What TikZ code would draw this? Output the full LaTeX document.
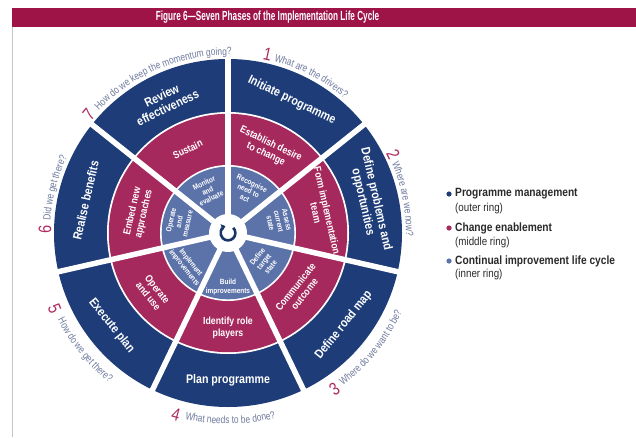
\documentclass[tikz,border=0pt]{standalone}
\usepackage{fontspec}
\setmainfont{Liberation Sans}
\newfontfamily\condf[FakeStretch=0.85,Ligatures=TeX]{Liberation Sans}
\newfontfamily\titlef[FakeStretch=0.62,Ligatures=TeX]{Liberation Sans}
\newfontfamily\qfam[FakeStretch=0.8,Ligatures=TeX]{Liberation Sans}
\usetikzlibrary{decorations.text, arrows.meta}
\definecolor{pmblue}{HTML}{1D3C78}
\definecolor{cecrim}{HTML}{A6295D}
\definecolor{cilblue}{HTML}{5C73AA}
\definecolor{titlecrim}{HTML}{9E1447}
\definecolor{qcol}{HTML}{6E7A9E}
\definecolor{numcol}{HTML}{B0295F}
\definecolor{iconblue}{HTML}{1A3568}
\definecolor{legtxt}{HTML}{2A2A2A}
\newcommand\qfont{\qfam\fontsize{10.5}{12}\selectfont\color{qcol}}
\begin{document}
\begin{tikzpicture}[x=1pt,y=1pt,
  outtxt/.style={text=white, font=\condf\bfseries\fontsize{12.5}{13.5}\selectfont, align=center, inner sep=0pt},
  midtxt/.style={text=white, font=\condf\bfseries\fontsize{10.3}{11.5}\selectfont, align=center, inner sep=0pt},
  intxt/.style={text=white, font=\condf\bfseries\fontsize{7.6}{8.4}\selectfont, align=center, inner sep=0pt},
  numst/.style={text=numcol, font=\qfam\fontsize{18}{18}\selectfont, inner sep=0pt},
  spoke/.style={white, line width=5.5pt},
  legb/.style={text=legtxt, font=\condf\bfseries\fontsize{12}{13}\selectfont, inner sep=0pt, anchor=west},
  legs/.style={text=legtxt, font=\condf\fontsize{11.5}{12}\selectfont, inner sep=0pt, anchor=west},
  qpath/.style={decorate, decoration={text along path, text align=left, text={|\qfont|#1}}}
]
\useasboundingbox (0,0) rectangle (636,437);
\fill[white] (0,0) rectangle (636,437);
\fill[titlecrim] (12,410) rectangle (636,429);
\draw[gray!45, line width=0.8pt] (12,410) -- (12,0);
\node[text=white, font=\titlef\bfseries\fontsize{13.2}{14}\selectfont, inner sep=0pt] (title) at (267.5,419.5) {Figure 6—Seven Phases of the Implementation Life Cycle};

\begin{scope}[shift={(228,204)}]
  \coordinate (C) at (0,0);
  \fill[pmblue] (C) circle[radius=174];
  \fill[white] (C) circle[radius=121];
  \fill[cecrim] (C) circle[radius=119.2];
  \fill[white] (C) circle[radius=68];
  \fill[cilblue] (C) circle[radius=66.3];
  \foreach \a in {90,38.571,-12.857,-64.286,-115.714,-167.143,141.429}
    \draw[spoke] (C) -- (\a:176);
  \fill[white] (C) circle[radius=19];
  \draw[iconblue, line width=2.6pt, -{Triangle[length=4pt,width=6.5pt]}] (45:7.4) arc[start angle=45,end angle=-250,radius=7.4];

  % outer ring
  \node[outtxt, rotate=-25.71] (o1) at (64.29:147) {Initiate programme};
  \node[outtxt, rotate=-77.14] (o2) at (12.86:145) {Define problems and\\opportunities};
  \node[outtxt, rotate=51.43] (o3) at (-38.57:148) {Define road map};
  \node[outtxt, rotate=0] (o4) at (-90:147) {Plan programme};
  \node[outtxt, rotate=-51.43] (o5) at (-141.43:149) {Execute plan};
  \node[outtxt, rotate=77.14] (o6) at (167.14:146) {Realise benefits};
  \node[outtxt, rotate=25.71] (o7) at (115.71:146) {Review\\effectiveness};

  % middle ring
  \node[midtxt, rotate=-25.71] (m1) at (64.29:93) {Establish desire\\to change};
  \node[midtxt, rotate=-77.14] (m2) at (12.86:96) {Form implementation\\team};
  \node[midtxt, rotate=51.43] (m3) at (-38.57:92) {Communicate\\outcome};
  \node[midtxt, rotate=0] (m4) at (-90:95) {Identify role\\players};
  \node[midtxt, rotate=-51.43] (m5) at (-141.43:96) {Operate\\and use};
  \node[midtxt, rotate=77.14] (m6) at (167.14:92) {Embed new\\approaches};
  \node[midtxt, rotate=25.71] (m7) at (115.71:93) {Sustain};

  % inner ring
  \node[intxt, rotate=-25.71] (i1) at (64.29:47) {Recognise\\need to\\act};
  \node[intxt, rotate=-77.14] (i2) at (12.86:52) {Assess\\current\\state};
  \node[intxt, rotate=51.43] (i3) at (-38.57:46) {Define\\target\\state};
  \node[intxt, rotate=0] (i4) at (-90:54) {Build\\improvements};
  \node[intxt, rotate=-51.43] (i5) at (-141.43:52) {Implement\\improvements};
  \node[intxt, rotate=77.14] (i6) at (167.14:50) {Operate\\and\\measure};
  \node[intxt, rotate=25.71] (i7) at (115.71:47) {Monitor\\and\\evaluate};

  % numbers
  \node[numst, rotate=-12.5] (n1) at (77.5:183) {1};
  \node[numst, rotate=-64.5] (n2) at (25.5:183) {2};
  \node[numst, rotate=34.3] (n3) at (-55.7:189) {3};
  \node[numst, rotate=-16] (n4) at (-106:189) {4};
  \node[numst, rotate=-66.5] (n5) at (-156.5:189) {5};
  \node[numst, rotate=89] (n6) at (179:183) {6};
  \node[numst, rotate=49.5] (n7) at (139.5:183) {7};

  % questions
  \path[qpath={What are the drivers?}] (75:178) arc[start angle=75,end angle=20,radius=178];
  \path[qpath={Where are we now?}] (23:178) arc[start angle=23,end angle=-25,radius=178];
  \path[qpath={Where do we want to be?}] (-53:191) arc[start angle=-53,end angle=-5,radius=191];
  \path[qpath={What needs to be done?}] (-103:191) arc[start angle=-103,end angle=-55,radius=191];
  \path[qpath={How do we get there?}] (-153:191) arc[start angle=-153,end angle=-105,radius=191];
  \path[qpath={Did we get there?}] (176:178) arc[start angle=176,end angle=130,radius=178];
  \path[qpath={How do we keep the momentum going?}] (136.5:178) arc[start angle=136.5,end angle=75,radius=178];
\end{scope}

% legend
\fill[pmblue] (449,243) circle[radius=2.6];
\node[legb] (l1) at (455,243) {Programme management};
\node[legs] (l1s) at (455,228) {(outer ring)};
\fill[cecrim] (449,209) circle[radius=2.6];
\node[legb] (l2) at (455,209) {Change enablement};
\node[legs] (l2s) at (455,194) {(middle ring)};
\fill[cilblue] (449,176) circle[radius=2.6];
\node[legb] (l3) at (455,176) {Continual improvement life cycle};
\node[legs] (l3s) at (455,162) {(inner ring)};
\end{tikzpicture}
\end{document}
